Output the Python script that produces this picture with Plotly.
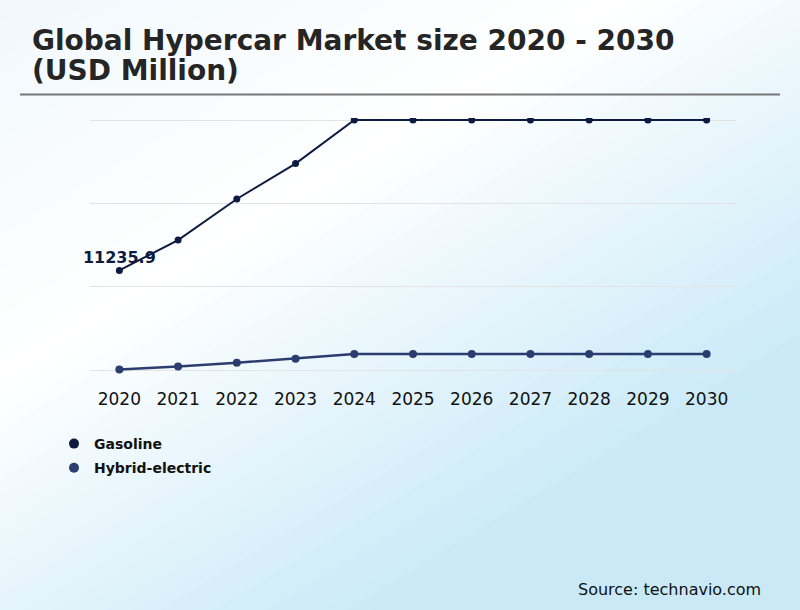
"""Global Hypercar Market size 2020 - 2030, line chart in Plotly."""

import plotly.graph_objects as go

# ---------------------------------------------------------------------------
# Data
# ---------------------------------------------------------------------------
years = ["2020", "2021", "2022", "2023", "2024", "2025",
         "2026", "2027", "2028", "2029", "2030"]
gasoline = [11235.9, 14660, 19290, 23280, 28200, 28200,
            28200, 28200, 28200, 28200, 28200]
hybrid = [60, 400, 830, 1280, 1800, 1800, 1800, 1800, 1800, 1800, 1800]
label_year = "2020"
label_value = 11235.9
grid_vals = [0, 9400, 18800, 28200]

title_lines = ["Global Hypercar Market size 2020 - 2030", "(USD Million)"]
source_text = "Source: technavio.com"

GAS_COLOR = "#0c1b3f"
HYB_COLOR = "#2b3d6f"

# ---------------------------------------------------------------------------
# Figure geometry (pixels)
# ---------------------------------------------------------------------------
W, H = 800, 610
ML, MR, MT, MB = 90, 64, 118, 235


def px_x(px):
    return (px - ML) / (W - ML - MR)


def px_y(py):
    return (H - MB - py) / (H - MT - MB)


fig = go.Figure()

fig.add_trace(
    go.Scatter(
        x=years, y=gasoline, mode="lines+markers",
        line=dict(color=GAS_COLOR, width=2),
        marker=dict(color=GAS_COLOR, size=7),
        name="Gasoline", showlegend=False,
    )
)
fig.add_trace(
    go.Scatter(
        x=years, y=hybrid, mode="lines+markers",
        line=dict(color=HYB_COLOR, width=2.5),
        marker=dict(color=HYB_COLOR, size=8),
        name="Hybrid-electric", showlegend=False,
    )
)

# first-year value label, allowed to spill past the plot edge
fig.add_trace(
    go.Scatter(
        x=[label_year], y=[label_value], mode="markers+text",
        marker=dict(size=4, opacity=0),
        text=["%.1f" % label_value], textposition="top center",
        textfont=dict(family="DejaVu Sans", size=16, color=GAS_COLOR, weight="bold"),
        cliponaxis=False, showlegend=False, hoverinfo="skip",
    )
)

# legend entries show the marker only
for name, color in [("Gasoline", GAS_COLOR), ("Hybrid-electric", HYB_COLOR)]:
    fig.add_trace(
        go.Scatter(
            x=[None], y=[None], mode="markers",
            marker=dict(color=color, size=10),
            name=name, legendgroup=name,
        )
    )

# ---------------------------------------------------------------------------
# Background: diagonal gradient made of stacked bands
# ---------------------------------------------------------------------------
stops = [(0.0, (236, 246, 251)), (0.52, (255, 255, 255)), (1.0, (200, 233, 247))]


def grad_color(t):
    for (t0, c0), (t1, c1) in zip(stops[:-1], stops[1:]):
        if t <= t1:
            f = (t - t0) / (t1 - t0)
            return "rgb(%d,%d,%d)" % tuple(round(a + (b - a) * f) for a, b in zip(c0, c1))
    return "rgb(%d,%d,%d)" % stops[-1][1]


shapes = []
n_bands = 60
for i in range(n_bands):
    t0 = i / n_bands
    tm = (i + 0.5) / n_bands
    # everything with px/W + py/H >= 2*t0
    pts = [
        (W * (2 * t0 + 1), -H),
        (W * 4, -H),
        (W * 4, 3 * H),
        (W * (2 * t0 - 4), 3 * H),
    ]
    path = "M " + " L ".join("%.4f,%.4f" % (px_x(a), px_y(b)) for a, b in pts) + " Z"
    shapes.append(dict(
        type="path", path=path, xref="paper", yref="paper",
        fillcolor=grad_color(tm), line=dict(width=0), layer="below",
    ))

# rule under the title
shapes.append(dict(
    type="line", xref="paper", yref="paper",
    x0=px_x(20), x1=px_x(780), y0=px_y(94.5), y1=px_y(94.5),
    line=dict(color="#777777", width=2),
))

title_font = dict(family="DejaVu Sans", size=28, color="#252525", weight="bold")
annotations = [
    dict(text=title_lines[0], x=px_x(30), y=px_y(40.5), xref="paper", yref="paper",
         xanchor="left", yanchor="middle", showarrow=False, font=title_font),
    dict(text=title_lines[1], x=px_x(30), y=px_y(70.5), xref="paper", yref="paper",
         xanchor="left", yanchor="middle", showarrow=False, font=title_font),
    dict(text=source_text, x=px_x(763), y=px_y(589), xref="paper", yref="paper",
         xanchor="right", yanchor="middle", showarrow=False,
         font=dict(family="DejaVu Sans", size=16, color="#111111")),
]

fig.update_layout(
    width=W, height=H,
    margin=dict(l=ML, r=MR, t=MT, b=MB),
    paper_bgcolor="rgb(236,246,251)",
    plot_bgcolor="rgba(0,0,0,0)",
    shapes=shapes,
    annotations=annotations,
    showlegend=True,
    legend=dict(
        x=px_x(54), y=px_y(428), xanchor="left", yanchor="top",
        bgcolor="rgba(0,0,0,0)", tracegroupgap=3,
        font=dict(family="DejaVu Sans", size=14, color="#111111", weight="bold"),
    ),
    xaxis=dict(
        type="category", range=[-0.5, 10.5], showgrid=False, zeroline=False,
        showline=False, ticks="outside", ticklen=9, tickcolor="rgba(0,0,0,0)",
        tickfont=dict(family="DejaVu Sans", size=17, color="#111111"),
    ),
    yaxis=dict(
        range=[-564, 28200 + 2 * 112.8], tickvals=grid_vals, showticklabels=False,
        showgrid=True, gridcolor="#e3e3e3", gridwidth=1, zeroline=False,
        showline=False,
    ),
)

fig.write_html(
    "out.html",
    config={"displayModeBar": False},
    post_script="document.body.style.margin = '0';",
)
